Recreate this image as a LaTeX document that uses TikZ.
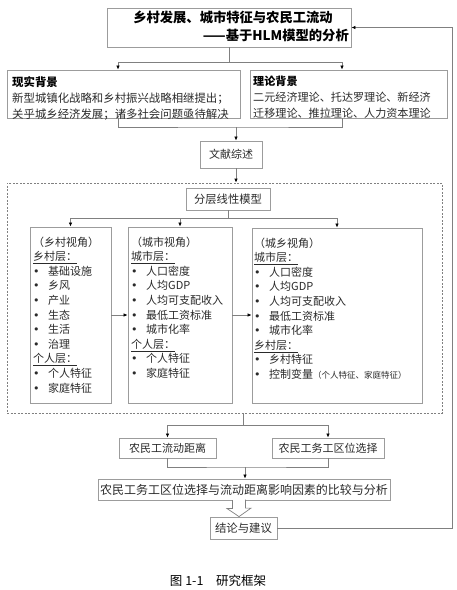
\documentclass[tikz,border=0pt]{standalone}
\usepackage{fontspec}
\setmainfont{Noto Sans CJK SC}
\newfontfamily\symfont{DejaVu Sans}
\usetikzlibrary{positioning, arrows.meta, calc}
\definecolor{boxgray}{HTML}{9C9C9C}
\definecolor{linegray}{HTML}{808080}
\definecolor{inkgray}{HTML}{2A2A2A}
\newcommand{\bulletitem}[1]{\makebox[15pt][l]{{\symfont •}}#1}

\begin{document}
\begin{tikzpicture}[x=1pt, y=-1pt,
  box/.style={draw=boxgray, line width=0.8pt, inner sep=0pt},
  labelbox/.style={box, font=\fontsize{11}{13}\selectfont, text=inkgray},
  textblock/.style={anchor=north west, inner sep=0pt, align=left, text=inkgray},
  titlefont/.style={inner sep=0pt, font=\fontsize{13.3}{16}\selectfont\bfseries},
  line/.style={draw=linegray, line width=0.7pt},
  arrow/.style={line, -{Latex[length=4pt, width=3.4pt, black]}},
  frame/.style={draw=linegray, line width=0.7pt, dash pattern=on 2pt off 1.5pt}
]
\useasboundingbox (0,0) rectangle (457,590);

% title
\node[box, minimum width=244pt, minimum height=39pt] (title) at (229,27.5) {};
\node[titlefont] (title1) at (233,17) {乡村发展、城市特征与农民工流动};
\node[titlefont, anchor=east] (title2) at (349,35) {——基于HLM模型的分析};

% background
\node[box, minimum width=233pt, minimum height=48pt] (real) at (123.5,94) {};
\node[box, minimum width=197pt, minimum height=48pt] (theory) at (348.5,94) {};
\node[textblock, font=\fontsize{11.4}{16}\selectfont] (realtxt) at (12,76) {\textbf{\color{black}现实背景}\\新型城镇化战略和乡村振兴战略相继提出；\\关乎城乡经济发展；诸多社会问题亟待解决};
\node[textblock, font=\fontsize{11.1}{16}\selectfont] (theorytxt) at (253,76) {\textbf{\color{black}理论背景}\\二元经济理论、托达罗理论、新经济\\迁移理论、推拉理论、人力资本理论};

\node[labelbox, minimum width=62pt, minimum height=27pt] (review) at (231,154.5) {文献综述};

% model frame
\node[frame, minimum width=435pt, minimum height=230pt, inner sep=0pt] (frame) at (224.5,298) {};
\node[labelbox, font=\fontsize{11.3}{13}\selectfont, minimum width=84pt, minimum height=22pt] (hlm) at (228,199) {分层线性模型};

\node[box, minimum width=81pt, minimum height=176pt] (rural) at (70.5,315) {};
\node[box, minimum width=104pt, minimum height=176pt] (city) at (180,315) {};
\node[box, minimum width=170pt, minimum height=175pt] (urbrur) at (337,315.5) {};

\node[textblock, font=\fontsize{11}{14.6}\selectfont] (ruraltxt) at (33,236.5) {（乡村视角）\\\underline{乡村层：}\\\bulletitem{基础设施}\\\bulletitem{乡风}\\\bulletitem{产业}\\\bulletitem{生态}\\\bulletitem{生活}\\\bulletitem{治理}\\\underline{个人层：}\\\bulletitem{个人特征}\\\bulletitem{家庭特征}};
\node[textblock, font=\fontsize{11}{14.6}\selectfont] (citytxt) at (131,236.5) {（城市视角）\\\underline{城市层：}\\\bulletitem{人口密度}\\\bulletitem{人均GDP}\\\bulletitem{人均可支配收入}\\\bulletitem{最低工资标准}\\\bulletitem{城市化率}\\\underline{个人层：}\\\bulletitem{个人特征}\\\bulletitem{家庭特征}};
\node[textblock, font=\fontsize{11}{14.6}\selectfont] (urbrurtxt) at (254,237.5) {（城乡视角）\\\underline{城市层：}\\\bulletitem{人口密度}\\\bulletitem{人均GDP}\\\bulletitem{人均可支配收入}\\\bulletitem{最低工资标准}\\\bulletitem{城市化率}\\\underline{乡村层：}\\\bulletitem{乡村特征}\\\bulletitem{控制变量{\fontsize{8.5}{10}\selectfont（个人特征、家庭特征）}}};

% results
\node[labelbox, minimum width=97pt, minimum height=20pt] (dist) at (167.5,448) {农民工流动距离};
\node[labelbox, minimum width=112pt, minimum height=20pt] (loc) at (328,448) {农民工务工区位选择};
\node[labelbox, font=\fontsize{12}{14}\selectfont, minimum width=292pt, minimum height=21pt] (compare) at (244,489.5) {农民工务工区位选择与流动距离影响因素的比较与分析};
\node[labelbox, font=\fontsize{11.4}{13}\selectfont, minimum width=67pt, minimum height=22pt] (concl) at (243.5,528) {结论与建议};

\node[inner sep=0pt, font=\fontsize{12.5}{15}\selectfont] (caption) at (218,581) {图 1-1\hspace{1em}研究框架};

% connectors
\coordinate (split1) at (229,62);
\coordinate (join1) at (236,127);
\coordinate (split2) at (228,218);
\coordinate (split3) at (243,425);
\coordinate (join2) at (245,467);
\coordinate (fat) at (239,500);
\coordinate (fb) at (452,27.5);

\draw[line] (title.south) -- (split1);
\draw[arrow] (split1) -| ([xshift=-5.5pt]real.north);
\draw[arrow] (split1) -| ([xshift=-6.5pt]theory.north);
\draw[line] ([xshift=-5.5pt]real.south) |- (join1) -| ([xshift=-6.5pt]theory.south);
\draw[arrow] (join1) -- (join1 |- review.north);
\draw[arrow] (join1 |- review.south) -- (join1 |- frame.north);

\draw[line] (hlm.south) -- (split2);
\draw[arrow] (split2) -| (rural.north);
\draw[arrow] (split2) -| (city.north);
\draw[arrow] (split2) -| (urbrur.north);
\draw[arrow] (rural.east) -- (city.west);
\draw[arrow] (city.east) -- (city.east -| urbrur.west);

\draw[line] (split3 |- frame.south) -- (split3);
\draw[arrow] (split3) -| (dist.north);
\draw[arrow] (split3) -| (loc.north);
\draw[line] (dist.south) |- (join2) -| (loc.south);
\draw[arrow] (join2) -- (join2 |- compare.north);

\draw[line, fill=white] (fat) ++(-6.5,0) -- ++(0,8.5) -- ++(-5.5,0) -- (fat |- concl.north) -- ++(12,-8.5) -- ++(-5.5,0) -- ++(0,-8.5);
\draw[arrow] (concl.east) -| (fb) -- (title.east);

\end{tikzpicture}
\end{document}
